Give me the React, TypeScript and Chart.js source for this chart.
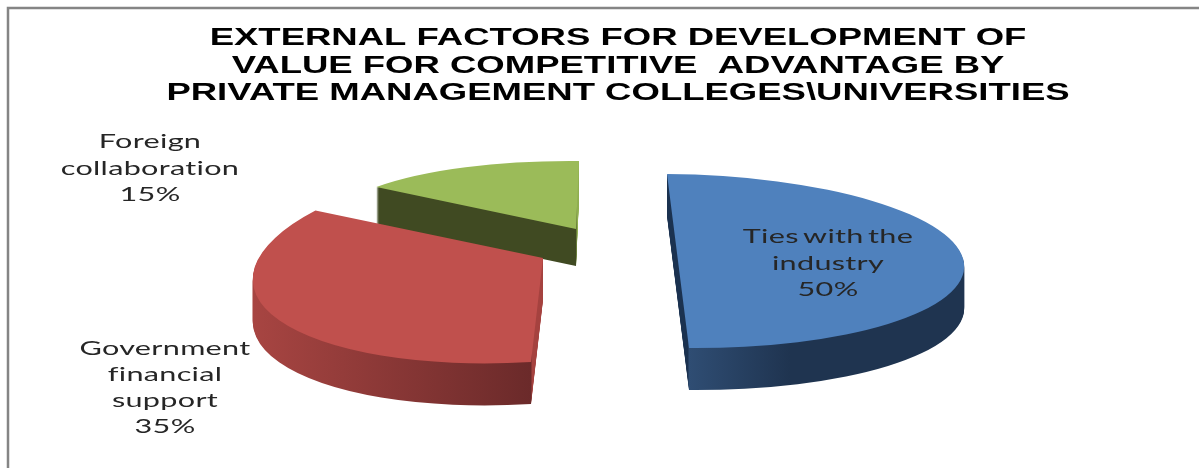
import React, { useEffect, useRef } from "react";
import { Chart, registerables } from "chart.js";

Chart.register(...registerables);

const titleLines = [
  "EXTERNAL FACTORS FOR DEVELOPMENT OF",
  "VALUE FOR COMPETITIVE  ADVANTAGE BY",
  "PRIVATE MANAGEMENT COLLEGES\\UNIVERSITIES",
];
const categories = ["Ties with the industry", "Government financial support", "Foreign collaboration"];
const shares = [50, 35, 15];
const categoryLines = [["Ties with the", "industry"], ["Government", "financial", "support"], ["Foreign", "collaboration"]];

const topColors = ["#4f81bd", "#c0504d", "#9bbb59"];
// tilted-view projection of every exploded slice
const projections = [
  { apexX: 678, apexY: 261, xx: 286, xy: 2, yx: 11, yy: 87, depth: 42 },
  { apexX: 543, apexY: 258, xx: 290, xy: -17, yx: -12, yy: 104, depth: 42 },
  { apexX: 576, apexY: 229, xx: 249, xy: 2.5, yx: -3, yy: 68, depth: 37 },
];
const wallStops = [
  [[660, "#1b3250"], [688, "#1b3250"], [689, "#2f4d73"], [790, "#1f3450"], [970, "#1f3450"]],
  [[250, "#a84542"], [531, "#6b2a2a"], [532, "#a5423f"], [545, "#a5423f"]],
  [[370, "#404a22"], [576, "#404a22"], [577, "#8fae50"], [582, "#8fae50"]],
];
const labelAnchors = [
  { x: 828, y: 243, pitch: 26.5 },
  { x: 165, y: 355, pitch: 26 },
  { x: 150, y: 148, pitch: 26.5 },
];
const titleAnchor = { x: 618, y: 45, pitch: 27.5, stretch: 1.49 };
const labelStretch = 1.53;

const ghostOf = (arc: any, fill: any) => {
  const ghost = Object.create(arc);
  ghost.options = {
    offset: 0, spacing: 0, borderWidth: 0, borderRadius: 0, circular: true, angle: 0,
    borderAlign: "center", borderJoinStyle: "round", selfJoin: false,
    backgroundColor: fill, borderColor: fill,
  };
  return ghost;
};

const project = (ctx: any, arc: any, p: any, dy: number) => {
  const r = arc.outerRadius;
  ctx.translate(p.apexX, p.apexY + dy);
  ctx.transform(p.xx / r, p.xy / r, p.yx / r, p.yy / r, 0, 0);
  ctx.translate(-arc.x, -arc.y);
};

const slices3d = {
  id: "slices3d",
  beforeDatasetDraw(chart: any, args: any) {
    const ctx = chart.ctx;
    const arcs = args.meta.data;
    [2, 1, 0].forEach((i) => {
      const arc = arcs[i];
      const p = projections[i];
      const r = arc.outerRadius;
      const stops: any[] = wallStops[i];
      // gradient line along which the on-screen x grows, so its bands stay vertical on screen
      const dx = p.xx / r;
      const dy0 = p.yx / r;
      const norm = dx * dx + dy0 * dy0;
      const at = (px: number) => {
        const t = (px - p.apexX) / norm;
        return [arc.x + t * dx, arc.y + t * dy0];
      };
      const first = stops[0][0];
      const last = stops[stops.length - 1][0];
      const a = at(first);
      const b = at(last);
      const grad = ctx.createLinearGradient(a[0], a[1], b[0], b[1]);
      stops.forEach(([px, c]: any) => grad.addColorStop((px - first) / (last - first), c));
      const wall = ghostOf(arc, grad);
      for (let dy = p.depth; dy >= 1; dy--) {
        ctx.save();
        project(ctx, arc, p, dy);
        wall.draw(ctx);
        ctx.restore();
      }
      ctx.save();
      project(ctx, arc, p, 0);
      ghostOf(arc, topColors[i]).draw(ctx);
      ctx.restore();
    });
    return false;
  },
};

const stretchedText = (ctx: any, text: string, x: number, y: number, stretch: number) => {
  ctx.save();
  ctx.translate(x, y);
  ctx.scale(stretch, 1);
  ctx.textAlign = "center";
  ctx.textBaseline = "alphabetic";
  ctx.fillText(text, 0, 0);
  ctx.restore();
};

const annotations = {
  id: "annotations",
  afterDraw(chart: any) {
    const ctx = chart.ctx;
    ctx.save();
    ctx.strokeStyle = "#858585";
    ctx.lineWidth = 2.5;
    ctx.beginPath();
    ctx.moveTo(8, 468);
    ctx.lineTo(8, 8);
    ctx.lineTo(1199, 8);
    ctx.stroke();

    ctx.fillStyle = "#000000";
    ctx.font = 'bold 24.5px "Liberation Sans"';
    titleLines.forEach((line, i) => {
      stretchedText(ctx, line, titleAnchor.x, titleAnchor.y + i * titleAnchor.pitch, titleAnchor.stretch);
    });

    ctx.fillStyle = "#262626";
    ctx.font = '20px Lato';
    ctx.letterSpacing = "0.2px";
    ctx.wordSpacing = "-2.5px";
    const total = shares.reduce((a, b) => a + b, 0);
    categories.forEach((_, i) => {
      const a = labelAnchors[i];
      const lines = [...categoryLines[i], `${Math.round((shares[i] / total) * 100)}%`];
      lines.forEach((line, j) => stretchedText(ctx, line, a.x, a.y + j * a.pitch, labelStretch));
    });
    ctx.restore();
  },
};

export default function App() {
  const ref = useRef<HTMLCanvasElement>(null);
  useEffect(() => {
    const chart = new Chart(ref.current as HTMLCanvasElement, {
      type: "pie",
      data: {
        labels: categories,
        datasets: [{ data: shares, backgroundColor: topColors, borderWidth: 0 }],
      },
      options: {
        animation: false,
        responsive: false,
        plugins: { legend: { display: false }, tooltip: { enabled: false }, title: { display: false } },
      },
      plugins: [slices3d, annotations],
    } as any);
    return () => chart.destroy();
  }, []);
  return (
    <div style={{ position: "fixed", inset: 0, background: "#fff", overflow: "hidden" }}>
      <canvas ref={ref} width={1199} height={468} style={{ display: "block", filter: "blur(0.5px)" }} />
    </div>
  );
}
